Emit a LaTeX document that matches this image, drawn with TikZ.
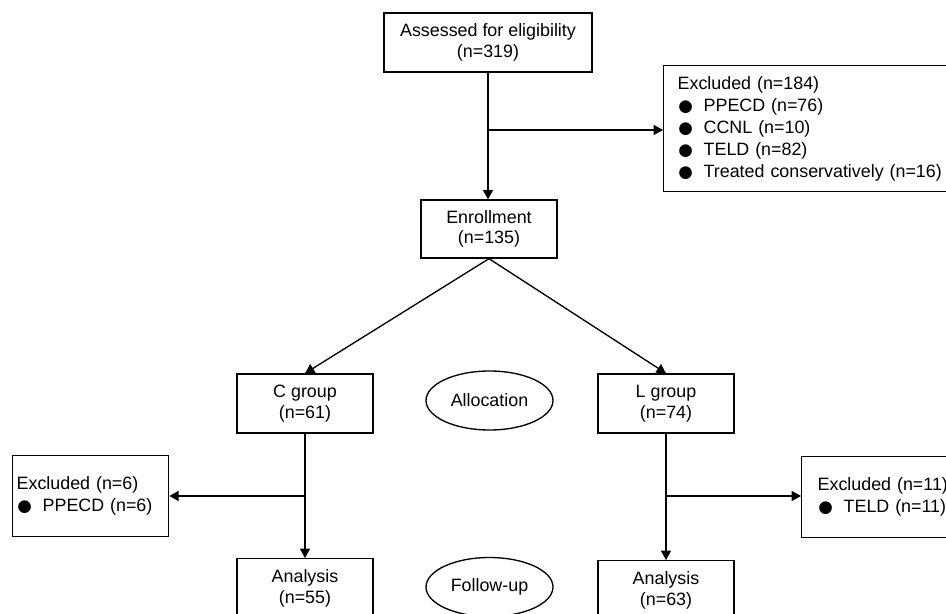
\documentclass[tikz,border=0pt]{standalone}
\usepackage{fontspec}
\setmainfont{Liberation Sans}
\newfontfamily\symfont{DejaVu Sans}
\usepackage{tikz}
\usetikzlibrary{positioning,shapes.geometric,arrows.meta}
\newcommand{\blt}{\makebox[19.5pt][l]{\hspace{0.5pt}{\symfont\fontsize{12.5}{10}\selectfont ●}}}

\begin{document}
\begin{tikzpicture}[
  x=0.75pt, y=-0.75pt,
  flbox/.style={draw, line width=1pt, align=center, inner sep=0pt, minimum width=102pt, minimum height=44.25pt, font=\fontsize{13.4}{15.5}\selectfont},
  flexcl/.style={draw, line width=1pt, align=left, anchor=north west, inner ysep=0pt, minimum height=60.75pt, font=\fontsize{13.4}{16.5}\selectfont},
  flnote/.style={draw, ellipse, line width=1pt, inner sep=0pt, minimum width=95.25pt, minimum height=44.25pt, font=\fontsize{13.4}{15.5}\selectfont},
  flarrow/.style={-{Triangle[length=7pt,width=7.5pt]}, line width=1pt},
]
\useasboundingbox (0,0) rectangle (946,614);
\clip (0,0) rectangle (946,614);
% screening
\node[flbox, minimum width=156pt] (assess) at (488,42.5) {Assessed for eligibility\\(n=319)};
\node[flexcl, minimum height=94.5pt, inner xsep=10.5pt, text width=204pt] (excl1) at (663,65)
  {Excluded (n=184)\\\blt PPECD (n=76)\\\blt CCNL (n=10)\\\blt TELD (n=82)\\\blt Treated conservatively (n=16)};
\node[flbox, minimum height=43.5pt] (enrol) at (489,229) {Enrollment\\(n=135)};
% allocation
\node[flbox] (cgrp) at (305,403.5) {C group\\(n=61)};
\node[flbox] (lgrp) at (666,403.5) {L group\\(n=74)};
\node[flnote] (alloc) at (489.5,400.5) {Allocation};
% follow-up
\node[flexcl, inner xsep=3pt, text width=111pt] (exclc) at (12,455) {Excluded (n=6)\\\blt PPECD (n=6)};
\node[flexcl, inner xsep=12pt, text width=110pt] (excll) at (801,456) {Excluded (n=11)\\\blt TELD (n=11)};
\node[flbox, anchor=north, minimum height=45pt] (anac) at (305,558) {Analysis\\(n=55)};
\node[flbox, anchor=north, minimum height=45pt] (anal) at (666,560) {Analysis\\(n=63)};
\node[flnote] (follow) at (489.5,587) {Follow-up};
% connectors
\coordinate (b1) at (488,130);
\coordinate (b2) at (305,496);
\coordinate (b3) at (666,496);
\draw[flarrow] (assess.south) -- (assess.south |- enrol.north);
\draw[flarrow] (b1) -- (b1 -| excl1.west);
\draw[flarrow] (enrol.south) -- (cgrp.north);
\draw[flarrow] (enrol.south) -- (lgrp.north);
\draw[flarrow] (cgrp.south) -- (anac.north);
\draw[flarrow] (b2) -- (b2 -| exclc.east);
\draw[flarrow] (lgrp.south) -- (anal.north);
\draw[flarrow] (b3) -- (b3 -| excll.west);
\end{tikzpicture}
\end{document}
